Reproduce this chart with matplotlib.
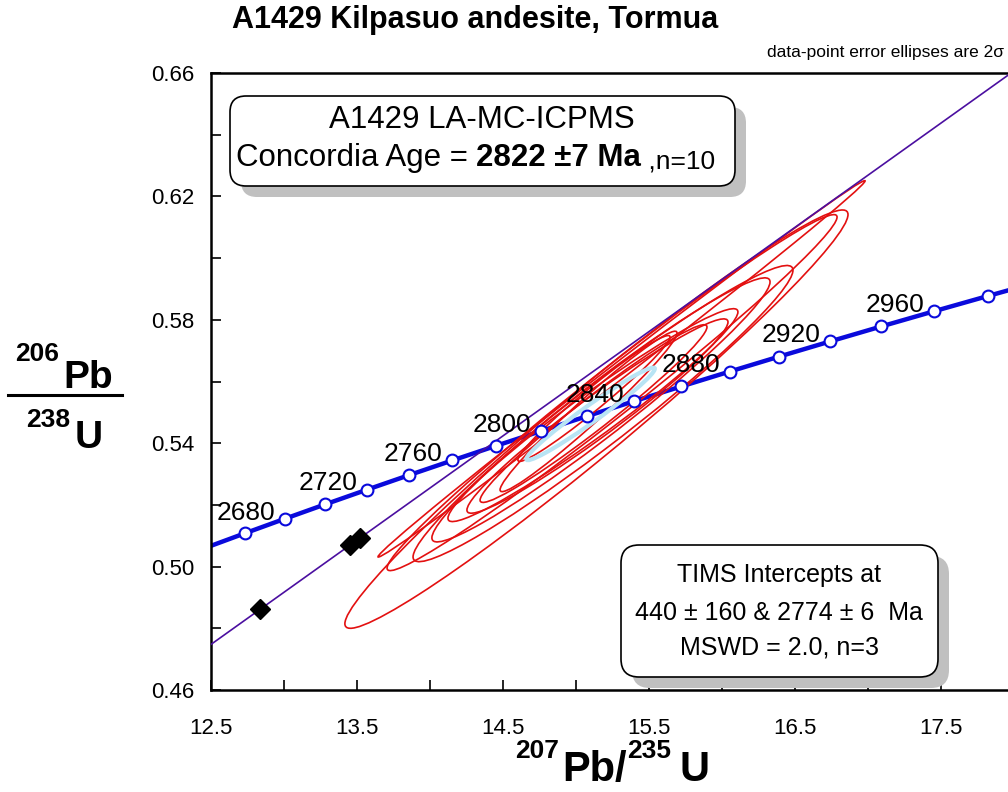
import numpy as np
import matplotlib
matplotlib.use('Agg')
import matplotlib.pyplot as plt
from matplotlib.patches import Ellipse, FancyBboxPatch
from matplotlib.ticker import FormatStrFormatter

plt.rcParams['font.family'] = ['Liberation Sans', 'DejaVu Sans']

# concordia curve: age (Ma), 207Pb/235U, 206Pb/238U
conc_age = [2640, 2660, 2680, 2700, 2720, 2740, 2760, 2780, 2800, 2820,
            2840, 2860, 2880, 2900, 2920, 2940, 2960, 2980, 3000]
conc_x = [12.4638, 12.7316, 13.0048, 13.2833, 13.5675, 13.8572, 14.1528,
          14.4542, 14.7616, 15.0751, 15.3949, 15.7210, 16.0536, 16.3929,
          16.7388, 17.0917, 17.4516, 17.8186, 18.1930]
conc_y = [0.50611, 0.51079, 0.51549, 0.52020, 0.52492, 0.52966, 0.53441,
          0.53918, 0.54396, 0.54876, 0.55357, 0.55840, 0.56324, 0.56810,
          0.57297, 0.57786, 0.58276, 0.58768, 0.59261]
label_ages = [2680, 2720, 2760, 2800, 2840, 2880, 2920, 2960]

# LA-MC-ICPMS spots (2 sigma errors, error correlation)
ell_x = [15.140, 15.312, 15.247, 15.185, 15.171, 15.116, 15.147, 15.120, 15.086, 15.123]
ell_x2s = [1.723, 1.668, 1.541, 1.301, 1.158, 0.993, 0.894, 0.777, 0.606, 0.521]
ell_y = [0.5478, 0.5641, 0.5564, 0.5496, 0.5508, 0.5491, 0.5488, 0.5496, 0.5503, 0.5545]
ell_y2s = [0.0678, 0.0610, 0.0577, 0.0480, 0.0428, 0.0345, 0.0315, 0.0288, 0.0260, 0.0204]
ell_rho = [0.978, 0.9985, 0.986, 0.968, 0.969, 0.969, 0.967, 0.974, 0.977, 0.976]

# concordia age ellipse
age_x, age_x2s, age_y, age_y2s, age_rho = 15.10, 0.44, 0.5495, 0.0150, 0.976

# TIMS fractions and discordia intercepts (440 Ma, 2774 Ma)
tims_x = [12.836, 13.452, 13.520]
tims_y = [0.4861, 0.5070, 0.5092]
disc_x = [0.5424, 14.3631]
disc_y = [0.07064, 0.53775]


def cov_ellipse(cx, cy, sx, sy, rho, **kw):
    cov = np.array([[sx * sx, rho * sx * sy], [rho * sx * sy, sy * sy]])
    vals, vecs = np.linalg.eigh(cov)
    ang = np.degrees(np.arctan2(vecs[1, 1], vecs[0, 1]))
    return Ellipse((cx, cy), 2 * np.sqrt(vals[1]), 2 * np.sqrt(vals[0]),
                   angle=ang, fill=False, **kw)


fig = plt.figure(figsize=(10.08, 7.92), dpi=100)
ax = fig.add_axes([211 / 1008, 102 / 792, 797 / 1008, 617 / 792])
ax.set_xlim(12.5, 12.5 + 797 / 146)
ax.set_ylim(0.46, 0.66)

# concordia line
ax.plot(conc_x, conc_y, color='#0a0adc', lw=3.2, zorder=2)

for i in range(len(ell_x)):
    ax.add_patch(cov_ellipse(ell_x[i], ell_y[i], ell_x2s[i], ell_y2s[i], ell_rho[i],
                             edgecolor='#e31010', lw=1.2, zorder=3))
ax.add_patch(cov_ellipse(age_x, age_y, age_x2s, age_y2s, age_rho,
                         edgecolor='#b8e4f4', lw=3.0, zorder=4))

ax.axline((disc_x[0], disc_y[0]), (disc_x[1], disc_y[1]), color='#4b0fa0', lw=1.2, zorder=5)

mk = [(a >= 2660) and (a <= 2980) for a in conc_age]
ax.plot(np.array(conc_x)[mk], np.array(conc_y)[mk], 'o', ms=8.5, mfc='white',
        mec='#0a0adc', mew=1.5, zorder=6)
for a, x, y in zip(conc_age, conc_x, conc_y):
    if a in label_ages:
        ax.annotate(str(a), (x, y), xytext=(-7, -0.5), textcoords='offset points',
                    ha='right', va='baseline', fontsize=19, zorder=7)

ax.plot(tims_x, tims_y, 'D', color='black', ms=10, zorder=7)

# axes styling
for s in ['top', 'left', 'bottom']:
    ax.spines[s].set_linewidth(1.8)
ax.spines['right'].set_visible(False)
ax.set_xticks([12.5, 13.5, 14.5, 15.5, 16.5, 17.5])
ax.set_xticks([13.0, 14.0, 15.0, 16.0, 17.0], minor=True)
ax.set_yticks([0.46, 0.50, 0.54, 0.58, 0.62, 0.66])
ax.set_yticks([0.48, 0.52, 0.56, 0.60, 0.64], minor=True)
ax.xaxis.set_major_formatter(FormatStrFormatter('%.1f'))
ax.yaxis.set_major_formatter(FormatStrFormatter('%.2f'))
ax.tick_params(which='both', direction='in', length=7, width=1.2, top=False, right=False)
ax.tick_params(axis='x', which='major', labelsize=16, pad=20)
ax.tick_params(axis='y', which='major', labelsize=16, pad=12)

# overlay in pixel units for boxes and labels
ov = fig.add_axes([0, 0, 1, 1], zorder=10)
ov.set_xlim(0, 1008)
ov.set_ylim(792, 0)
ov.axis('off')

ov.text(475, 20, 'A1429 Kilpasuo andesite, Tormua', ha='center', va='center',
        fontsize=22, fontweight='bold')
ov.text(1004, 53, 'data-point error ellipses are 2\u03c3', ha='right', va='center', fontsize=12.5)

# box 1
ov.add_patch(FancyBboxPatch((241, 107), 505, 90, boxstyle='round,pad=0,rounding_size=16',
                            fc='#c0c0c0', ec='none'))
ov.add_patch(FancyBboxPatch((230, 96), 505, 90, boxstyle='round,pad=0,rounding_size=16',
                            fc='white', ec='black', lw=1.2))
ov.text(482, 120, 'A1429 LA-MC-ICPMS', ha='center', va='center', fontsize=22.5)
t1 = ov.text(236, 158, 'Concordia Age = ', ha='left', va='center', fontsize=22.5)
t2 = ov.annotate('2822 \u00b17 Ma', xy=(1, 0), xycoords=t1, ha='left', va='bottom',
                 fontsize=22.5, fontweight='bold')
ov.annotate(' ,n=10', xy=(1, 0), xycoords=t2, ha='left', va='bottom', fontsize=19)

# box 2
ov.add_patch(FancyBboxPatch((632, 556), 317, 132, boxstyle='round,pad=0,rounding_size=18',
                            fc='#c0c0c0', ec='none'))
ov.add_patch(FancyBboxPatch((621, 545), 317, 132, boxstyle='round,pad=0,rounding_size=18',
                            fc='white', ec='black', lw=1.2))
ov.text(779, 575, 'TIMS Intercepts at', ha='center', va='center', fontsize=18)
ov.text(779, 613, '440 \u00b1 160 & 2774 \u00b1 6  Ma', ha='center', va='center', fontsize=18)
ov.text(779, 648, 'MSWD = 2.0, n=3', ha='center', va='center', fontsize=18)

# y label as a fraction
ov.text(15, 361, '206', ha='left', va='baseline', fontsize=19, fontweight='bold')
ov.text(63, 388, 'Pb', ha='left', va='baseline', fontsize=28, fontweight='bold')
ov.plot([8, 122], [395, 395], color='black', lw=2.2)
ov.text(26, 427, '238', ha='left', va='baseline', fontsize=19, fontweight='bold')
ov.text(75, 448, 'U', ha='left', va='baseline', fontsize=28, fontweight='bold')

# x label
ov.text(515, 758, '207', ha='left', va='baseline', fontsize=19, fontweight='bold')
ov.text(562, 781, 'Pb/', ha='left', va='baseline', fontsize=30, fontweight='bold')
ov.text(627, 758, '235', ha='left', va='baseline', fontsize=19, fontweight='bold')
ov.text(679, 781, 'U', ha='left', va='baseline', fontsize=30, fontweight='bold')

fig.savefig('out.png', dpi=100)
